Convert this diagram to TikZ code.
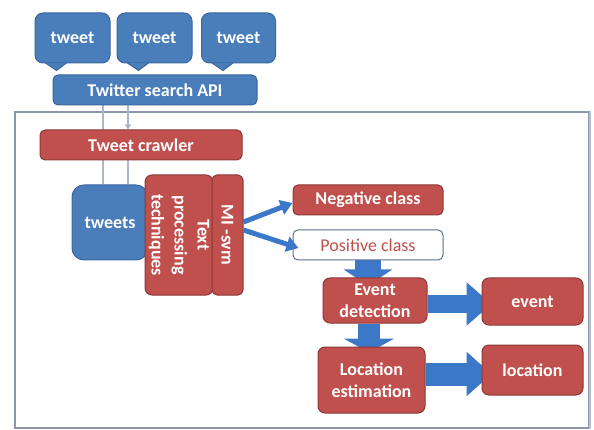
\documentclass[tikz,border=0pt]{standalone}
\usepackage{fontspec}
\setmainfont{Carlito}
\usetikzlibrary{arrows.meta,calc}
\pgfdeclarelayer{bg}
\pgfsetlayers{bg,main}
\definecolor{bblue}{HTML}{4A7EBB}
\definecolor{bbord}{HTML}{3A669E}
\definecolor{rred}{HTML}{C0504D}
\definecolor{rbord}{HTML}{8C3836}
\definecolor{frm}{HTML}{8D96A8}
\definecolor{frmr}{HTML}{B8C0CF}
\definecolor{lnk}{HTML}{A9B7CF}
\definecolor{arr}{HTML}{3C78C8}
\definecolor{posb}{HTML}{5A6E8E}
\tikzset{
  box/.style={rounded corners=5pt, draw, line width=1pt, inner sep=0pt, align=center,
    font=\fontsize{18}{22}\selectfont\bfseries, text=white},
  bluebox/.style={box, fill=bblue, draw=bbord},
  redbox/.style={box, fill=rred, draw=rbord},
  link/.style={draw=lnk, line width=1.6pt},
  thinarrow/.style={draw=arr, line width=5pt, -{Triangle[width=15pt,length=12pt]}},
  blockarrow/.style={draw=arr, line width=#1}
}
\begin{document}
\begin{tikzpicture}[x=1pt,y=-1pt]
\useasboundingbox (0,0) rectangle (594,430);
% tweets (callouts)
\node[bluebox, rounded corners=8pt, minimum width=75, minimum height=50] (t1) at (72.5,38) {tweet};
\node[bluebox, rounded corners=8pt, minimum width=75, minimum height=50] (t2) at (154.5,38) {tweet};
\node[bluebox, rounded corners=8pt, minimum width=74, minimum height=50] (t3) at (238.5,38) {tweet};
\foreach \t in {t1,t2,t3}{
  \fill[bblue] ([xshift=11pt,yshift=0.6pt]\t.south west) -- ([xshift=22pt,yshift=-7pt]\t.south west) -- ([xshift=32pt,yshift=0.6pt]\t.south west) -- cycle;
  \draw[bbord, line width=1pt] ([xshift=11pt,yshift=0.5pt]\t.south west) -- ([xshift=22pt,yshift=-7pt]\t.south west) -- ([xshift=32pt,yshift=0.5pt]\t.south west);
}
\node[bluebox, minimum width=204, minimum height=30] (api) at (155,90) {Twitter search API};
% main flow
\node[redbox, minimum width=202, minimum height=30] (crawler) at (141,145) {Tweet crawler};
\node[bluebox, rounded corners=12pt, minimum width=76, minimum height=75] (tweets) at (110,222.5) {tweets};
\node[redbox, rounded corners=7pt, minimum width=62, minimum height=120] (tpt) at (179,235)
  {\rotatebox{-90}{\begin{tabular}{@{}c@{}}Text\\[1pt]processing\\[1pt]techniques\end{tabular}}};
\node[redbox, rounded corners=5pt, minimum width=31, minimum height=120] (mi) at (227.5,235)
  {\rotatebox{-90}{MI -svm}};
\node[redbox, minimum width=150, minimum height=30] (neg) at (368,200) {Negative class};
\node[box, fill=white, draw=posb, text=rred, font=\fontsize{18}{22}\selectfont, minimum width=150, minimum height=30] (pos) at (368,245) {Positive class};
\node[redbox, rounded corners=7pt, minimum width=104, minimum height=45] (ed) at (375,300.5) {Event\\detection};
\node[redbox, rounded corners=7pt, minimum width=101, minimum height=47] (ev) at (532.5,301.5) {event};
\node[redbox, rounded corners=7pt, minimum width=107, minimum height=66] (le) at (371.5,380) {Location\\estimation};
\node[redbox, rounded corners=7pt, minimum width=101, minimum height=50] (loc) at (532.5,370) {location};
% thin arrows
\draw[thinarrow] ([yshift=13pt]mi.east) -- ([yshift=-3pt]neg.west);
\draw[thinarrow] ([yshift=5pt]mi.east) -- ([xshift=6pt,yshift=-3pt]pos.west);
\begin{pgfonlayer}{bg}
  \fill[white] (0,0) rectangle (594,430);
  \node[draw=frm, line width=1.6pt, inner sep=0pt, minimum width=574, minimum height=316] (frame) at (302,270) {};
  \draw[frmr, line width=1.8pt] (frame.north east) -- (frame.south east);
  \coordinate (l1) at ($(api.south)+(-52,0)$);
  \coordinate (l2) at ($(api.south)+(-27,0)$);
  \draw[link] (l1) -- (l1 |- tweets.north);
  \draw[link, -{Triangle[width=6pt,length=5pt]}] (l2) -- (l2 |- crawler.north);
  \draw[link] (l2 |- crawler.south) -- (l2 |- tweets.north);
  % block arrows
  \draw[blockarrow=26pt, -{Triangle[width=48pt,length=16pt]}] (pos.south) -- ($(pos.south |- ed.north)+(0,8)$);
  \draw[blockarrow=22pt, -{Triangle[width=50pt,length=14pt]}] ($(ed.south)+(-6,0)$) -- ($(ed.south |- le.north)+(-6,6)$);
  \draw[blockarrow=18pt, -{Triangle[width=42pt,length=25pt]}] ($(ed.east)+(0,3.5)$) -- ($(ed.east -| ev.west)+(10,3.5)$);
  \draw[blockarrow=23pt, -{Triangle[width=43pt,length=25pt]}] ($(le.east)+(0,-6)$) -- ($(le.east -| loc.west)+(10,-6)$);
\end{pgfonlayer}
\end{tikzpicture}
\end{document}
